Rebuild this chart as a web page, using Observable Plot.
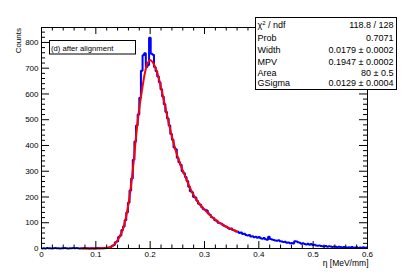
<!DOCTYPE html>
<html><head><meta charset="utf-8">
<script src="https://cdn.jsdelivr.net/npm/d3@7"></script>
<script src="https://cdn.jsdelivr.net/npm/@observablehq/plot@0.6"></script>
<style>body{margin:0;background:#fff;} #chart{width:409px;height:277px;}</style>
</head><body><div id="chart"></div>
<script>
// ---- data ----
const binStart = 0;
const binWidth = 0.003;
const counts = [
  0,1,0,2,1,1,0,1,2,1,
  1,0,1,1,2,1,0,1,1,2,
  1,2,1,0,1,1,2,1,1,0,
  1,1,0,1,2,1,1,1,2,2,
  3,
  3,6,11,14,24,27,45,50,72,85,
  110,140,178,225,272,345,415,478,520,585,
  690,750,758,705,712,818,756,752,705,688,
  668,645,618,590,560,530,505,478,445,422,
  392,385,352,335,325,300,292,278,262,240,
  222,218,200,198,185,174,170,160,152,150,
  148,136,130,121,118,110,108,100,98,96,
  90,86,84,80,76,78,72,70,66,65,
  60,62,56,57,52,50,52,47,48,44,
  46,42,45,40,38,41,36,34,46,37,
  35,33,31,30,32,28,27,25,26,22,
  23,20,21,19,28,27,24,22,18,20,
  17,16,18,15,17,14,15,12,11,12,
  10,9,8,10,7,9,8,6,8,7,
  5,7,6,4,6,5,3,5,4,6,
  3,4,5,2,4,3,5,3,4
];
const fitX = [0.075,0.09,0.10,0.11,0.12,0.125,0.13,0.135,0.14,0.145,0.15,0.155,0.16,0.165,0.17,0.175,0.18,0.185,0.19,0.195,0.2,0.205,0.21,0.215,0.22,0.225,0.23,0.235,0.24,0.245,0.25,0.255,0.26,0.265,0.27,0.275,0.28,0.285,0.29,0.295,0.3,0.305,0.31,0.315,0.32,0.325,0.33,0.335,0.34,0.345,0.35,0.355,0.36];
const fitY = [0,0,0.3,0.8,2,4,9,18,32,50,76,116,172,248,345,455,545,615,678,718,732,722,700,668,625,577,528,480,435,395,360,330,302,278,252,228,208,190,175,162,151,141,130,120,112,104,97,91,85,79,74,70,66];
const xTicks = [0,0.1,0.2,0.3,0.4,0.5,0.6];
const xTickLabels = ["0","0.1","0.2","0.3","0.4","0.5","0.6"];
const yTicks = [0,100,200,300,400,500,600,700,800];
const yTickLabels = ["0","100","200","300","400","500","600","700","800"];
const statNames = ["χ", "Prob", "Width", "MPV", "Area", "GSigma"];
const statValues = ["118.8 / 128", "0.7071", "0.0179 ± 0.0002", "0.1947 ± 0.0002", "80 ± 0.5", "0.0129 ± 0.0004"];
const legendText = "(d) after alignment";
const xLabel = "η [MeV/mm]";
const yLabel = "Counts";
const yMax = 858;

// ---- derived tables ----
const histPts = counts.map((c, i) => ({x: binStart + i * binWidth, y: c}));
histPts.push({x: binStart + counts.length * binWidth, y: counts[counts.length - 1]});
const fitPts = fitX.map((x, i) => ({x, y: fitY[i]}));
const xMinor = d3.range(0, 0.6001, 0.02).filter(v => Math.abs(v * 10 - Math.round(v * 10)) > 1e-6);
const yMinor = d3.range(0, yMax, 20).filter(v => v % 100 !== 0);

const W = 409, H = 277, mL = 41, mR = 42, mT = 27, mB = 29;
const iW = W - mL - mR, iH = H - mT - mB;
const FONT = "'Liberation Sans', Arial, Helvetica, sans-serif";

const plot = Plot.plot({
  width: W, height: H,
  marginLeft: mL, marginRight: mR, marginTop: mT, marginBottom: mB,
  style: {fontFamily: FONT, fontSize: "8px", background: "#fff", color: "#000"},
  x: {domain: [0, 0.6]},
  y: {domain: [0, yMax]},
  marks: [
    Plot.line(histPts, {x: "x", y: "y", curve: "step-after", stroke: "#0000ff", strokeWidth: 2, strokeLinejoin: "miter", strokeLinecap: "butt"}),
    Plot.line(fitPts, {x: "x", y: "y", curve: "catmull-rom", stroke: "#ff0000", strokeWidth: 2}),
    Plot.frame({stroke: "#000"}),
    Plot.tickX(xTicks, {x: d => d, insetTop: iH - 7, stroke: "#000"}),
    Plot.tickX(xTicks, {x: d => d, insetBottom: iH - 7, stroke: "#000"}),
    Plot.tickX(xMinor, {x: d => d, insetTop: iH - 3.5, stroke: "#000"}),
    Plot.tickX(xMinor, {x: d => d, insetBottom: iH - 3.5, stroke: "#000"}),
    Plot.tickY(yTicks, {y: d => d, insetRight: iW - 8, stroke: "#000"}),
    Plot.tickY(yTicks, {y: d => d, insetLeft: iW - 8, stroke: "#000"}),
    Plot.tickY(yMinor, {y: d => d, insetRight: iW - 4, stroke: "#000"}),
    Plot.tickY(yMinor, {y: d => d, insetLeft: iW - 4, stroke: "#000"}),
    Plot.axisX({ticks: xTicks, tickSize: 0, tickPadding: 3, tickFormat: d => xTickLabels[xTicks.indexOf(d)], label: null}),
    Plot.axisY({ticks: yTicks, tickSize: 0, tickPadding: 3, tickFormat: d => yTickLabels[yTicks.indexOf(d)], label: null})
  ]
});
document.getElementById("chart").appendChild(plot);

// ---- annotations (title texts, legend box, stats box) ----
const svg = d3.select(plot);
const g = svg.append("g").attr("font-family", FONT).attr("fill", "#000").attr("text-anchor", "start");
// axis titles
g.append("text").attr("x", 368.5).attr("y", 266).attr("font-size", 8.5).attr("text-anchor", "end").text(xLabel);
g.append("text").attr("transform", "translate(20.5,28) rotate(-90)").attr("font-size", 8).attr("text-anchor", "end").text(yLabel);
// legend box
g.append("rect").attr("x", 49.5).attr("y", 40.5).attr("width", 86).attr("height", 13.5).attr("fill", "#fff").attr("stroke", "#000");
g.append("text").attr("x", 51).attr("y", 51.1).attr("font-size", 7.7).attr("text-anchor", "start").text(legendText);
// stats box
g.append("rect").attr("x", 255.5).attr("y", 17.5).attr("width", 141).attr("height", 72).attr("fill", "#fff").attr("stroke", "#000");
const rowCenters = [24.8, 37.3, 49.7, 61.4, 72.4, 82.7];
statNames.forEach((n, i) => {
  const t = g.append("text").attr("x", 257.5).attr("y", rowCenters[i] + 3.2).attr("font-size", 9).attr("text-anchor", "start");
  if (i === 0) {
    t.append("tspan").text(n);
    t.append("tspan").attr("font-size", 6).attr("dy", -3.5).text("2");
    t.append("tspan").attr("dy", 3.5).text(" / ndf");
  } else {
    t.text(n);
  }
  g.append("text").attr("x", 393.5).attr("y", rowCenters[i] + 3.2).attr("font-size", 9).attr("text-anchor", "end").text(statValues[i]);
});
</script>
</body></html>
